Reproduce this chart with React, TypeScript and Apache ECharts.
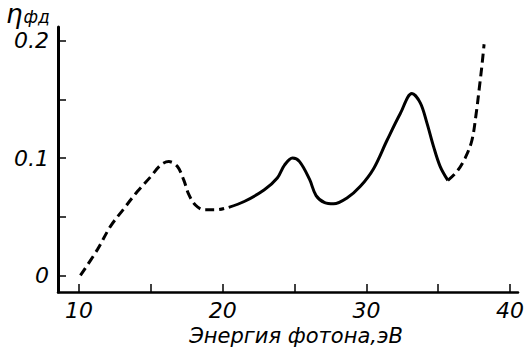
import React, { useEffect, useRef } from "react";
import * as echarts from "echarts";

const xTicks = [10, 15, 20, 25, 30, 35, 40];
const xLabels = [10, 20, 30, 40];
const yTicks = [0, 0.05, 0.1, 0.15, 0.2];
const yLabels = [0, 0.1, 0.2];

const lowDashed: [number, number][] = [
  [10.1, 0.0], [11.28, 0.022], [12.2, 0.042], [13.13, 0.057], [14.06, 0.0715], [14.98, 0.084],
  [15.68, 0.094], [16.25, 0.097], [16.84, 0.093], [17.3, 0.081], [17.64, 0.069], [18.1, 0.06],
  [18.69, 0.056], [19.62, 0.056], [20.1, 0.057],
];
const middleSolid: [number, number][] = [
  [20.42, 0.058], [21.5, 0.063], [22.9, 0.073], [23.8, 0.083], [24.3, 0.094], [24.86, 0.1],
  [25.35, 0.097], [26.04, 0.082], [26.5, 0.068], [27.1, 0.062], [27.72, 0.061], [28.65, 0.066],
  [29.58, 0.076], [30.5, 0.091], [31.43, 0.115], [32.36, 0.138], [33.17, 0.155], [33.75, 0.147],
  [34.21, 0.13], [34.67, 0.11], [35.13, 0.093], [35.67, 0.081],
];
const highDashed: [number, number][] = [
  [35.67, 0.081], [36.3, 0.0885], [36.87, 0.1], [37.34, 0.115], [37.64, 0.138], [37.87, 0.161],
  [38.05, 0.18], [38.19, 0.197],
];

const FONT = "DejaVu Sans";

export default function App() {
  const ref = useRef<HTMLDivElement>(null);
  useEffect(() => {
    if (!ref.current) return;
    const chart = echarts.init(ref.current, null, { renderer: "svg" });
    const lineBase = { type: "line", showSymbol: false, smooth: 0.35, silent: true };
    chart.setOption({
      animation: false,
      backgroundColor: "#fff",
      grid: { left: 58, right: 8, top: 27, bottom: 56, containLabel: false, outerBoundsMode: "none" },
      xAxis: {
        type: "value",
        min: 8.54,
        max: 40.55,
        splitLine: { show: false },
        axisLine: { onZero: false, lineStyle: { color: "#000", width: 2.5 } },
        axisTick: { inside: true, length: 8, customValues: xTicks, lineStyle: { color: "#000", width: 1.5 } },
        axisLabel: {
          customValues: xLabels,
          margin: 7,
          color: "#000",
          fontFamily: FONT,
          fontStyle: "italic",
          fontSize: 22,
        },
        name: "Энергия фотона,эВ",
        nameLocation: "middle",
        nameGap: 31,
        nameTextStyle: { color: "#000", fontFamily: FONT, fontStyle: "italic", fontSize: 21, padding: [0, 0, 0, 16] },
      },
      yAxis: {
        type: "value",
        min: -0.0141,
        max: 0.2117,
        splitLine: { show: false },
        axisLine: { onZero: false, lineStyle: { color: "#000", width: 3 } },
        axisTick: { inside: true, length: 8, customValues: yTicks, lineStyle: { color: "#000", width: 1.5 } },
        axisLabel: {
          customValues: yLabels,
          margin: 9,
          color: "#000",
          fontFamily: FONT,
          fontStyle: "italic",
          fontSize: 22,
          formatter: (v: number) => (v === 0 ? "0" : v.toFixed(1)),
        },
      },
      graphic: [
        {
          type: "text",
          left: 6,
          top: 1,
          style: {
            text: "{a|η}{b|фд}",
            rich: {
              a: { fontFamily: FONT, fontStyle: "italic", fontSize: 26, lineHeight: 26, fill: "#000" },
              b: { fontFamily: FONT, fontStyle: "italic", fontSize: 17, lineHeight: 17, fill: "#000", padding: [6, 0, 0, 1] },
            },
          },
        },
      ],
      series: [
        { ...lineBase, data: lowDashed, lineStyle: { color: "#000", width: 3, type: [9, 5] } },
        { ...lineBase, data: middleSolid, lineStyle: { color: "#000", width: 3, type: "solid" } },
        { ...lineBase, data: highDashed, lineStyle: { color: "#000", width: 3, type: [9, 5] } },
      ],
    });
    return () => chart.dispose();
  }, []);
  return <div ref={ref} style={{ position: "fixed", left: 0, top: 0, width: 526, height: 348 }} />;
}
